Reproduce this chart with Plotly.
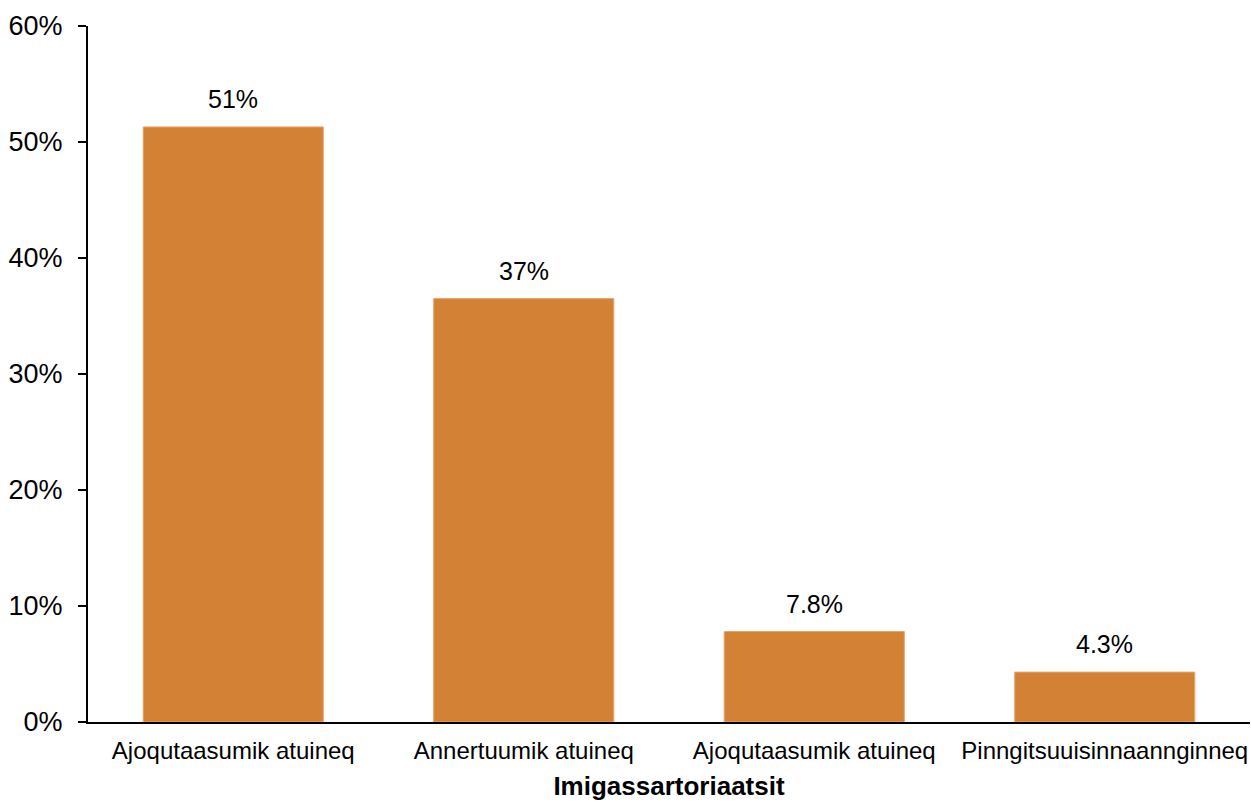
import plotly.graph_objects as go

categories = ["Ajoqutaasumik atuineq", "Annertuumik atuineq", "Ajoqutaasumik atuineq", "Pinngitsuuisinnaannginneq"]
values = [51.3, 36.5, 7.8, 4.3]
labels = ["51%", "37%", "7.8%", "4.3%"]
y_ticks = [0, 10, 20, 30, 40, 50, 60]
y_tick_text = [f"{t}%" for t in y_ticks]
x_title = "Imigassartoriaatsit"

pos = list(range(len(categories)))
FONT = "Liberation Sans, Arial, sans-serif"

fig = go.Figure()
fig.add_trace(go.Bar(
    x=pos, y=values, width=0.62,
    marker=dict(color="#D38235", line=dict(color="#E8A56A", width=1)),
    hoverinfo="skip",
))
for xi, v, lab in zip(pos, values, labels):
    fig.add_annotation(x=xi, y=v, text=lab, showarrow=False, yanchor="bottom",
                       yshift=12, font=dict(family=FONT, size=25, color="#000000"))

fig.update_layout(
    width=1251, height=803,
    margin=dict(l=88, r=1, t=26, b=81),
    plot_bgcolor="white", paper_bgcolor="white",
    showlegend=False,
    font=dict(family=FONT, color="#000000"),
    xaxis=dict(
        range=[-0.5, len(categories) - 0.5],
        tickmode="array", tickvals=pos, ticktext=categories,
        showline=True, linecolor="#000000", linewidth=2,
        ticks="", showgrid=False, zeroline=False, automargin=False,
        tickfont=dict(family=FONT, size=24, color="#000000"),
        ticklabelstandoff=6,
        title=dict(text=x_title, font=dict(family=FONT, size=26, color="#000000", weight="bold"), standoff=14),
    ),
    yaxis=dict(
        range=[0, 60],
        tickmode="array", tickvals=y_ticks, ticktext=y_tick_text,
        showline=True, linecolor="#000000", linewidth=2,
        ticks="outside", ticklen=8, tickwidth=2, tickcolor="#000000",
        ticklabelstandoff=10, automargin=False,
        showgrid=False, zeroline=False,
        tickfont=dict(family=FONT, size=27, color="#000000"),
    ),
)

fig.write_html("out.html", config={"displayModeBar": False},
               post_script="document.body.style.margin='0';document.body.style.overflow='hidden';")
